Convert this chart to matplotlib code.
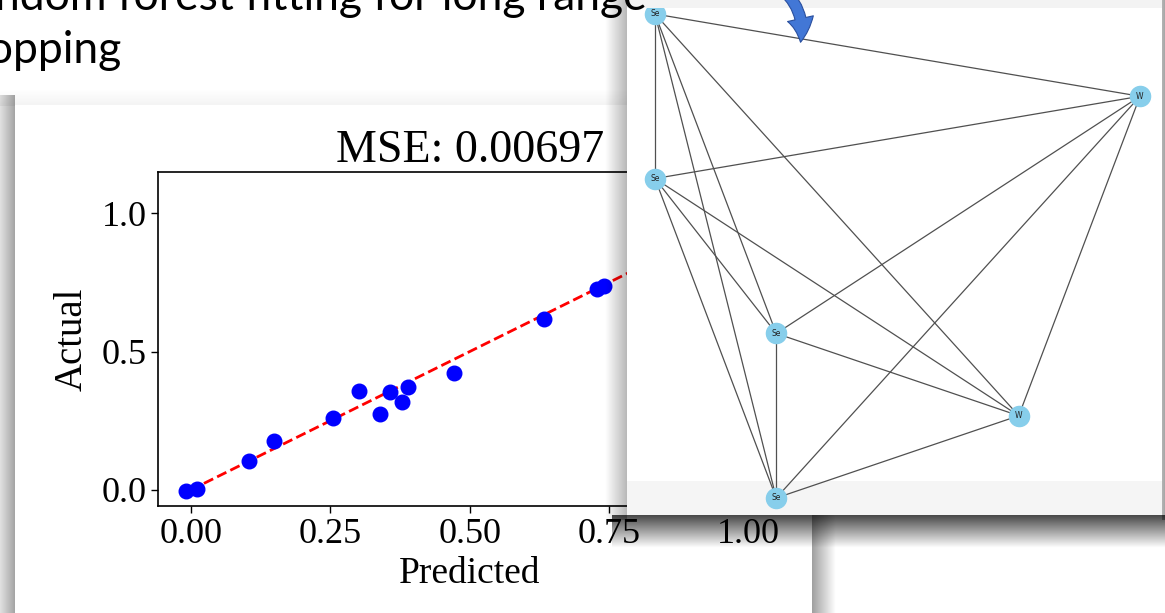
import numpy as np
import matplotlib
matplotlib.use("Agg")
import matplotlib.pyplot as plt
from matplotlib.patches import Rectangle, FancyArrowPatch

# scatter data
predicted = [-0.008, 0.011, 0.105, 0.149, 0.255, 0.302, 0.340, 0.358, 0.379, 0.389, 0.471, 0.633, 0.728, 0.741]
actual = [-0.004, 0.002, 0.106, 0.176, 0.259, 0.358, 0.275, 0.355, 0.317, 0.372, 0.422, 0.619, 0.725, 0.737]
xticks = [0.0, 0.25, 0.5, 0.75, 1.0]
xticklabels = ["0.00", "0.25", "0.50", "0.75", "1.00"]
yticks = [0.0, 0.5, 1.0]
yticklabels = ["0.0", "0.5", "1.0"]
mse_title = "MSE: 0.00697"

# graph picture: node layout and labels, complete graph
node_x = [-1.0, -1.0, -0.5, -0.5, 1.0, 0.5]
node_y = [1.0, 0.32, -0.32, -1.0, 0.66, -0.66]
node_labels = ["Se", "Se", "Se", "Se", "W", "W"]
edges = [(i, j) for i in range(6) for j in range(i + 1, 6)]

# slide title, cut off by the left and top edges of the picture
title_line1 = "ndom forest fitting for long range"
title_line2 = "hopping"

W, H = 1165, 613
fig = plt.figure(figsize=(W / 100, H / 100), dpi=100)
fig.patch.set_facecolor("white")


def pix_axes(z):
    a = fig.add_axes([0, 0, 1, 1], zorder=z)
    a.set_autoscale_on(False)
    a.set_xlim(0, W)
    a.set_ylim(H, 0)
    a.axis("off")
    a.patch.set_alpha(0)
    return a


def shade(a, x0, x1, y0, y1, a0, a1, axis="x", z=1):
    t = np.linspace(a0, a1, 64)
    if axis == "x":
        arr = np.zeros((1, 64, 4))
        arr[0, :, 3] = t
    else:
        arr = np.zeros((64, 1, 4))
        arr[:, 0, 3] = t
    a.imshow(arr, extent=(x0, x1, y1, y0), origin="upper", aspect="auto",
             interpolation="bilinear", zorder=z)


# slide background with the left card
bg = pix_axes(0)
shade(bg, 0, 15, 95, H, 0.12, 0.36, "x")
shade(bg, 0, 812, 88, 106, 0.0, 0.05, "y")
shade(bg, 812, 836, 515, H, 0.38, 0.0, "x")
bg.add_patch(Rectangle((15, 105), 797, H - 105, facecolor="white", edgecolor="none", zorder=2))

# scatter plot
ax = fig.add_axes([158.4 / W, (H - 506) / H, (781 - 158.4) / W, (506 - 171.7) / H], zorder=1)
ax.scatter(predicted, actual, s=110, color="blue", zorder=3)
ax.plot([0, 1], [0, 1], "--", color="red", lw=2, zorder=2)
ax.set_xlim(-0.058, 1.058)
ax.set_ylim(-0.058, 1.15)
ax.set_xticks(xticks)
ax.set_xticklabels(xticklabels)
ax.set_yticks(yticks)
ax.set_yticklabels(yticklabels)
serif = "Liberation Serif"
for lab in ax.get_xticklabels() + ax.get_yticklabels():
    lab.set_fontfamily(serif)
    lab.set_fontsize(26)
ax.tick_params(length=5, width=1)
ax.set_xlabel("Predicted", fontfamily=serif, fontsize=27, labelpad=4)
ax.set_ylabel("Actual", fontfamily=serif, fontsize=28, labelpad=8)
ax.set_title(mse_title, fontfamily=serif, fontsize=33, pad=6)
for sp in ax.spines.values():
    sp.set_linewidth(1.2)

# overlaid graph picture with its shadow
ov = pix_axes(2)
shade(ov, 605, 627, 0, 520, 0.0, 0.28, "x")
shade(ov, 612, W, 515, 548, 0.72, 0.0, "y")
shade(ov, 1162, W, 0, 520, 0.3, 0.35, "x")
ov.add_patch(Rectangle((627, 0), 535, 515, facecolor="white", edgecolor="none", zorder=2))
ov.add_patch(Rectangle((627, 0), 535, 8, facecolor="#f3f3f3", edgecolor="none", zorder=2))
ov.add_patch(Rectangle((627, 481), 535, 34, facecolor="#f5f5f5", edgecolor="none", zorder=2))

gx = fig.add_axes([627 / W, (H - 515) / H, 535 / W, 507 / H], zorder=3)
gx.axis("off")
gx.patch.set_alpha(0)
for i, j in edges:
    gx.plot([node_x[i], node_x[j]], [node_y[i], node_y[j]], color="#505050", lw=0.9, zorder=1)
gx.scatter(node_x, node_y, s=210, color="#87ceeb", zorder=2)
for x, y, t in zip(node_x, node_y, node_labels):
    gx.text(x, y, t, ha="center", va="center", fontsize=5.5, color="#222222", zorder=3)
gx.set_xlim((627 - 897.5) / 242.5, (1162 - 897.5) / 242.5)
gx.set_ylim(-(515 - 256) / 242, -(8 - 256) / 242)

# blue curved arrow
arrow = FancyArrowPatch((781, -12), (800, 45), transform=ov.transData,
                        connectionstyle="arc3,rad=-0.3",
                        arrowstyle="simple,head_width=19,head_length=17,tail_width=8",
                        facecolor="#4277d6", edgecolor="#2a4f9e", lw=0.8, zorder=6,
                        mutation_scale=1)
fig.add_artist(arrow)

# slide title
fig.text(-5, 10, title_line1, transform=bg.transData, fontsize=32, family="Lato",
         color="black", zorder=7, va="baseline")
fig.text(-36, 63, title_line2, transform=bg.transData, fontsize=32, family="Lato",
         color="black", zorder=7, va="baseline")

fig.savefig("out.png", dpi=100)
